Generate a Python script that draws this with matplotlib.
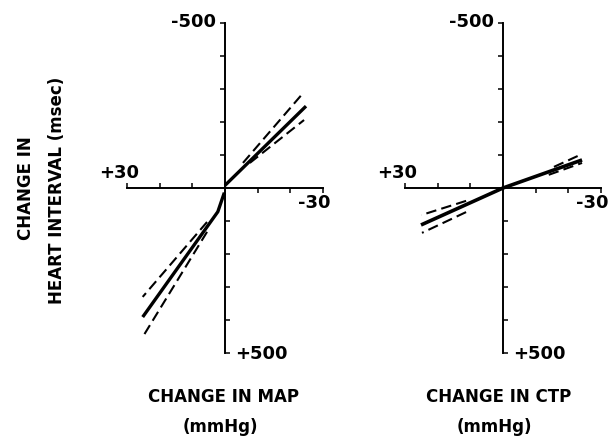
import matplotlib.pyplot as plt

plt.rcParams['font.family'] = 'DejaVu Sans'
plt.rcParams['font.weight'] = 'bold'

# tick positions (mmHg on x, msec on y)
x_ticks_left = [30, 20, 10]
x_ticks_right = [-10, -20, -30]
y_ticks_top = [-500, -400, -300, -200, -100]
y_ticks_bottom = [100, 200, 300, 400, 500]

# MAP panel: regression line (two pieces) and dashed confidence limits
map_lo_x = [25.2, 2.2, 0.2]
map_lo_y = [391, 72, 14]
map_hi_x = [0.0, -24.8]
map_hi_y = [-8, -248]
map_dash_x = [[-5.5, -24.2], [-7.6, -24.2], [5.5, 25.2], [5.5, 24.8]]
map_dash_y = [[-76, -291], [-76, -206], [103, 330], [133, 445]]

# CTP panel
ctp_x = [25.1, 0.0, -24.2]
ctp_y = [112, 0, -85]
ctp_dash_x = [[-15.6, -24.2], [-14.0, -24.2], [11.3, 25.0], [11.3, 24.8]]
ctp_dash_y = [[-64, -103], [-40, -76], [39, 82], [73, 136]]

fig = plt.figure(figsize=(6.16, 4.41), dpi=100)
ax1 = fig.add_axes([127/616, 88/441, 196/616, 330/441])
ax2 = fig.add_axes([405/616, 88/441, 196/616, 330/441])


def setup(ax):
    ax.set_xlim(30, -30)
    ax.set_ylim(500, -500)
    ax.patch.set_alpha(0)
    ax.spines['top'].set_visible(False)
    ax.spines['right'].set_visible(False)
    for s in ['left', 'bottom']:
        ax.spines[s].set_position(('data', 0))
        ax.spines[s].set_linewidth(1.4)
    ax.set_xticks(x_ticks_left)
    ax.set_xticks(x_ticks_right, minor=True)
    ax.set_yticks(y_ticks_top)
    ax.set_yticks(y_ticks_bottom, minor=True)
    ax.tick_params(axis='x', which='major', direction='in')
    ax.tick_params(axis='x', which='minor', direction='out')
    ax.tick_params(axis='y', which='major', direction='out')
    ax.tick_params(axis='y', which='minor', direction='in')
    ax.tick_params(which='both', length=3.8, width=1.1,
                   labelbottom=False, labelleft=False)
    kw = dict(textcoords='offset points', fontsize=13, fontweight='bold')
    ax.annotate('-500', xy=(0, -500), xytext=(-6.5, 0.7), ha='right', va='center', **kw)
    ax.annotate('+500', xy=(0, 500), xytext=(7.5, -0.7), ha='left', va='center', **kw)
    ax.annotate('+30', xy=(30, 0), xytext=(-6, 7), ha='center', va='baseline', **kw)
    ax.annotate('-30', xy=(-30, 0), xytext=(-6, -11), ha='center', va='center', **kw)


setup(ax1)
setup(ax2)

dash = (0, (5, 2.5))
ax1.plot(map_lo_x, map_lo_y, color='black', lw=2.4, solid_capstyle='butt')
ax1.plot(map_hi_x, map_hi_y, color='black', lw=2.4, solid_capstyle='butt')
for xs, ys in zip(map_dash_x, map_dash_y):
    ax1.plot(xs, ys, color='black', lw=1.5, linestyle=dash)

ax2.plot(ctp_x, ctp_y, color='black', lw=2.6, solid_capstyle='butt')
for xs, ys in zip(ctp_dash_x, ctp_dash_y):
    ax2.plot(xs, ys, color='black', lw=1.5, linestyle=dash)

fig.text(26/616, 1 - 188/441, 'CHANGE IN', rotation=90, ha='center', va='center', fontsize=12)
fig.text(57/616, 1 - 190/441, 'HEART INTERVAL (msec)', rotation=90, ha='center', va='center', fontsize=12)

fig.text(223/616, 1 - 397/441, 'CHANGE IN MAP', ha='center', va='center', fontsize=12)
fig.text(220/616, 1 - 427/441, '(mmHg)', ha='center', va='center', fontsize=12)
fig.text(499/616, 1 - 397/441, 'CHANGE IN CTP', ha='center', va='center', fontsize=12)
fig.text(494/616, 1 - 427/441, '(mmHg)', ha='center', va='center', fontsize=12)

fig.savefig('out.png', dpi=100)
